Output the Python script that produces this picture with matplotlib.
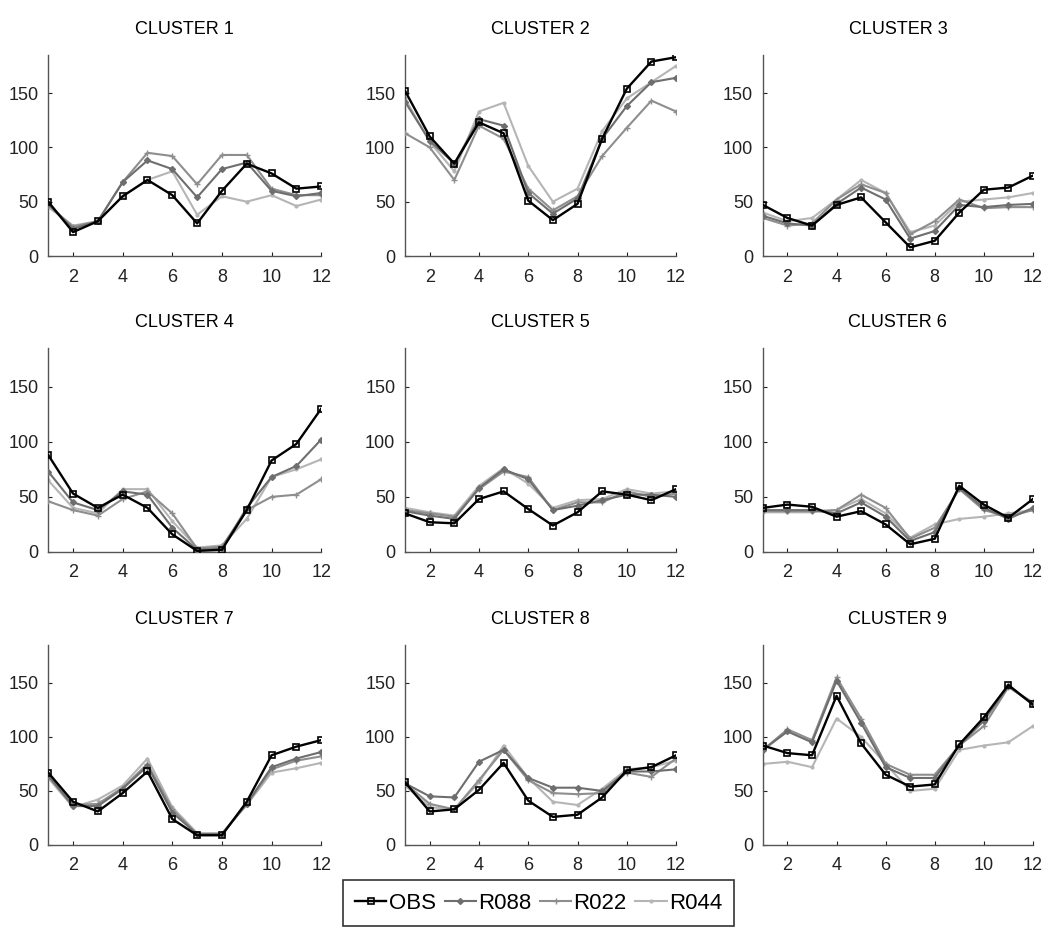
import numpy as np
import matplotlib
matplotlib.use('Agg')
import matplotlib.pyplot as plt

plt.rcParams['font.family'] = ['Liberation Sans', 'DejaVu Sans']

months = np.arange(1, 13)
series_names = ['OBS', 'R088', 'R022', 'R044']
titles = ['CLUSTER %d' % i for i in range(1, 10)]

# values per cluster: OBS, R088, R022, R044
obs = [
    [50, 22, 32, 55, 70, 56, 30, 60, 85, 76, 62, 64],
    [152, 110, 85, 123, 113, 51, 33, 48, 108, 154, 179, 183],
    [47, 35, 28, 47, 54, 31, 8, 14, 40, 61, 63, 74],
    [88, 53, 40, 52, 40, 16, 1, 2, 38, 83, 98, 130],
    [35, 27, 26, 48, 55, 39, 24, 36, 55, 52, 47, 57],
    [40, 43, 41, 32, 37, 25, 7, 12, 60, 43, 31, 48],
    [67, 40, 31, 48, 68, 24, 9, 9, 40, 83, 91, 97],
    [58, 31, 33, 51, 76, 41, 26, 28, 44, 69, 72, 83],
    [92, 85, 83, 138, 94, 65, 54, 56, 93, 118, 148, 130],
]
r088 = [
    [48, 25, 32, 68, 88, 80, 54, 80, 86, 60, 55, 58],
    [142, 106, 85, 126, 120, 58, 39, 53, 108, 138, 160, 164],
    [37, 30, 28, 48, 63, 52, 16, 23, 47, 45, 47, 48],
    [73, 45, 38, 55, 52, 22, 2, 3, 40, 68, 78, 102],
    [37, 33, 30, 58, 75, 66, 38, 42, 47, 52, 52, 50],
    [38, 38, 38, 35, 45, 32, 10, 18, 58, 40, 30, 40],
    [64, 36, 36, 52, 73, 30, 10, 10, 38, 72, 80, 86],
    [57, 45, 44, 77, 88, 62, 53, 53, 50, 68, 68, 70],
    [88, 105, 95, 152, 113, 72, 62, 62, 92, 115, 147, 130],
]
r022 = [
    [47, 27, 32, 68, 95, 92, 66, 93, 93, 62, 56, 56],
    [113, 100, 70, 120, 108, 62, 42, 55, 92, 118, 143, 133],
    [35, 28, 30, 52, 66, 58, 20, 32, 52, 44, 45, 45],
    [46, 38, 33, 48, 55, 35, 3, 5, 38, 50, 52, 66],
    [38, 35, 32, 57, 73, 68, 38, 45, 45, 55, 50, 53],
    [37, 37, 37, 38, 52, 40, 12, 22, 57, 38, 32, 38],
    [65, 37, 38, 53, 75, 33, 10, 10, 38, 70, 78, 82],
    [57, 38, 33, 60, 88, 60, 48, 47, 48, 67, 63, 80],
    [88, 107, 97, 155, 117, 75, 65, 65, 92, 110, 146, 132],
]
r044 = [
    [45, 28, 32, 55, 70, 78, 38, 55, 50, 56, 46, 52],
    [145, 105, 78, 133, 141, 83, 50, 62, 115, 145, 160, 175],
    [40, 32, 35, 52, 70, 58, 22, 28, 50, 52, 54, 58],
    [65, 40, 35, 57, 57, 28, 4, 6, 30, 68, 75, 84],
    [40, 36, 33, 60, 76, 62, 40, 47, 48, 57, 53, 55],
    [36, 36, 36, 38, 48, 35, 13, 25, 30, 32, 35, 38],
    [62, 35, 42, 55, 80, 35, 11, 11, 37, 67, 71, 76],
    [55, 35, 33, 58, 92, 62, 40, 37, 52, 70, 72, 78],
    [75, 77, 72, 117, 100, 75, 50, 52, 88, 92, 95, 110],
]

styles = [
    dict(color='black', marker='s', ms=5, mfc='none', mew=1.2, lw=1.7, zorder=5),
    dict(color='#6e6e6e', marker='D', ms=3, lw=1.5, zorder=4),
    dict(color='#8e8e8e', marker='+', ms=4, lw=1.5, zorder=3),
    dict(color='#b5b5b5', marker='.', ms=4, lw=1.5, zorder=2),
]

fig = plt.figure(figsize=(10.48, 9.34), dpi=100)

lefts = [0.046, 0.3865, 0.728]
widths = [0.2605, 0.2586, 0.2576]
bottoms = [0.7259, 0.409, 0.0953]
heights = [0.2152, 0.2184, 0.2141]

for k in range(9):
    r, c = divmod(k, 3)
    ax = fig.add_axes([lefts[c], bottoms[r], widths[c], heights[r]])
    for data, st, name in zip([obs, r088, r022, r044], styles, series_names):
        ax.plot(months, data[k], label=name, **st)
    ax.set_xlim(1, 12)
    ax.set_ylim(0, 185)
    ax.set_xticks([2, 4, 6, 8, 10, 12])
    ax.set_yticks([0, 50, 100, 150])
    ax.spines['top'].set_visible(False)
    ax.spines['right'].set_visible(False)
    for s in ['left', 'bottom']:
        ax.spines[s].set_color('#555555')
        ax.spines[s].set_linewidth(1.0)
    ax.tick_params(direction='in', length=3, labelsize=13, colors='#222222')
    ax.tick_params(axis='x', pad=9)
    ax.tick_params(axis='y', pad=7)
    ax.set_title(titles[k], fontsize=13, pad=15)

handles, labels = ax.get_legend_handles_labels()
leg = fig.legend(handles, labels, loc='center', bbox_to_anchor=(0.514, 0.033),
                 ncol=4, fontsize=16, frameon=True, fancybox=False,
                 handlelength=1.4, handletextpad=0.1, columnspacing=0.4,
                 borderpad=0.55, borderaxespad=0)
leg.get_frame().set_edgecolor('black')
leg.get_frame().set_linewidth(1.2)

fig.savefig('out.png', dpi=100)
